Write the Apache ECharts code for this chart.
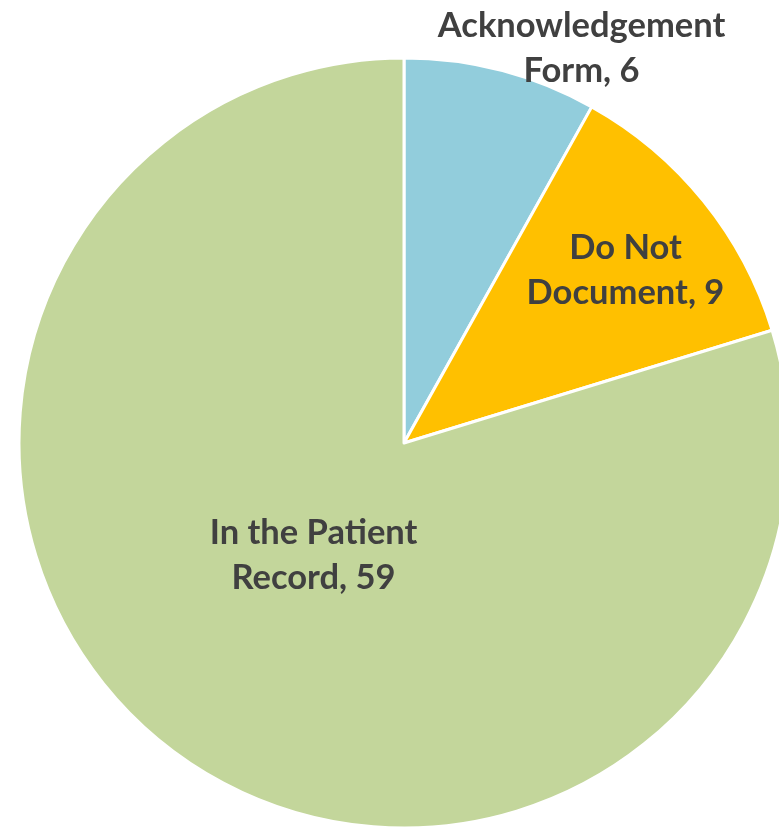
<!DOCTYPE html>
<html>
<head>
<meta charset="utf-8">
<script src="https://cdn.jsdelivr.net/npm/echarts@6/dist/echarts.min.js"></script>
<style>
  html, body { margin: 0; padding: 0; background: #fff; }
  #main_chart { width: 779px; height: 827px; }
</style>
</head>
<body>
<div id="main_chart"></div>
<script>
var categories = ['Acknowledgement\nForm', 'Do Not\nDocument', 'In the Patient\nRecord'];
var values = [6, 9, 59];
var colors = ['#92CDDC', '#FFC000', '#C3D69B'];

// where each label sits: angle (deg, clockwise from 12 o'clock) and fraction of radius
var labelSpots = [[24.2, 1.125], [52, 0.73], [218.8, 0.375]];

var cx = 404, cy = 443, R = 385;

var chart = echarts.init(document.getElementById('main_chart'));

var data = categories.map(function (name, i) {
    return { name: name, value: values[i], itemStyle: { color: colors[i] } };
});

chart.setOption({
    animation: false,
    series: [{
        type: 'pie',
        center: [cx, cy],
        radius: [0, R],
        startAngle: 90,
        clockwise: true,
        data: data,
        itemStyle: { borderColor: '#fff', borderWidth: 3 },
        label: {
            show: true,
            position: 'inside',
            formatter: function (p) { return p.name + ', ' + p.value; },
            fontFamily: 'Lato',
            fontWeight: 'bold',
            fontSize: 34.5,
            lineHeight: 45,
            color: '#404040',
            align: 'center'
        },
        labelLine: { show: false },
        labelLayout: function (params) {
            var s = labelSpots[params.dataIndex];
            var a = s[0] * Math.PI / 180;
            return {
                x: cx + Math.sin(a) * R * s[1],
                y: cy - Math.cos(a) * R * s[1],
                align: 'center',
                verticalAlign: 'middle'
            };
        }
    }]
});
</script>
</body>
</html>
